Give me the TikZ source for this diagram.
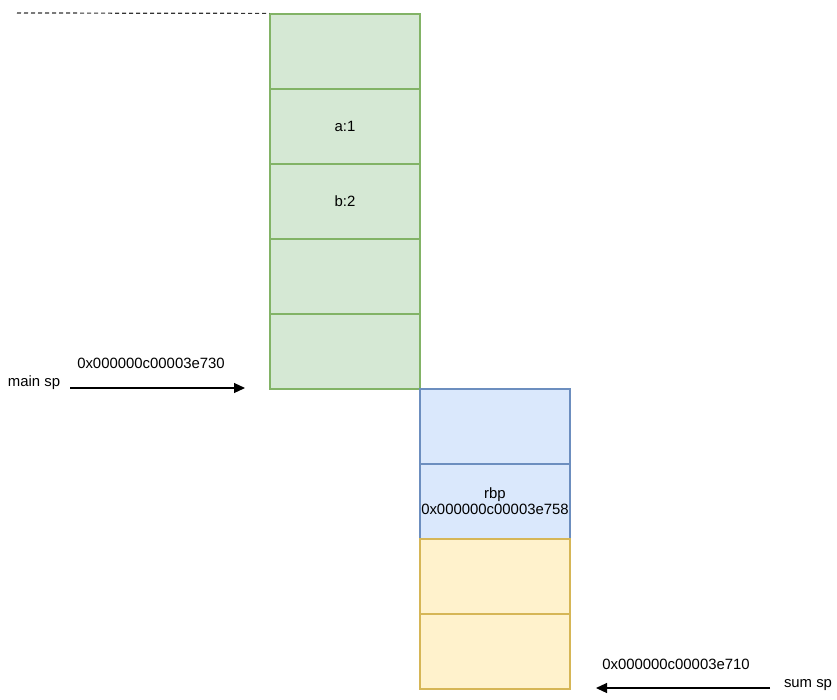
\documentclass[tikz,border=0pt]{standalone}
\usepackage{fontspec}
\setmainfont{Liberation Sans}
\usetikzlibrary{arrows.meta}
\definecolor{gfill}{HTML}{D5E8D4}\definecolor{gdraw}{HTML}{82B366}
\definecolor{bfill}{HTML}{DAE8FC}\definecolor{bdraw}{HTML}{6C8EBF}
\definecolor{yfill}{HTML}{FFF2CC}\definecolor{ydraw}{HTML}{D6B656}
\begin{document}
\begin{tikzpicture}[x=1pt,y=-1pt,
  cell/.style={minimum width=150pt,minimum height=75pt,inner sep=0pt,line width=1.2pt,align=center,font=\fontsize{14.9}{18}\selectfont},
  gcell/.style={cell,fill=gfill,draw=gdraw},
  bcell/.style={cell,fill=bfill,draw=bdraw},
  ycell/.style={cell,fill=yfill,draw=ydraw},
  lbl/.style={font=\fontsize{14.9}{18}\selectfont,inner sep=0pt},
  arr/.style={line width=1.2pt,-{Triangle[length=11pt,width=10pt]}}]
\useasboundingbox (0,0) rectangle (837,699);
\node[gcell] (g1) at (345,51.5) {};
\node[gcell] (g2) at (345,126.5) {a:1};
\node[gcell] (g3) at (345,201.5) {b:2};
\node[gcell] (g4) at (345,276.5) {};
\node[gcell] (g5) at (345,351.5) {};
\node[bcell] (b1) at (495,426.5) {};
\node[bcell] (b2) at (495,501.5) {rbp\\[-2pt]0x000000c00003e758};
\node[ycell] (y1) at (495,576.5) {};
\node[ycell] (y2) at (495,651.5) {};
\coordinate (d0) at (17,13);
\draw[line width=1.2pt,dash pattern=on 4pt off 3pt,black!80] (d0) -- (g1.north west);
\node[lbl] (msp) at (34,383) {main sp};
\coordinate (ma) at (70,388);
\coordinate (mb) at (245,388);
\draw[arr] (ma) -- (mb);
\node[lbl] (maddr) at (151,363) {0x000000c00003e730};
\node[lbl] (ssp) at (808,685) {sum sp};
\coordinate (sa) at (770,688);
\coordinate (sb) at (596,688);
\draw[arr] (sa) -- (sb);
\node[lbl] (saddr) at (676,664) {0x000000c00003e710};
\end{tikzpicture}
\end{document}
